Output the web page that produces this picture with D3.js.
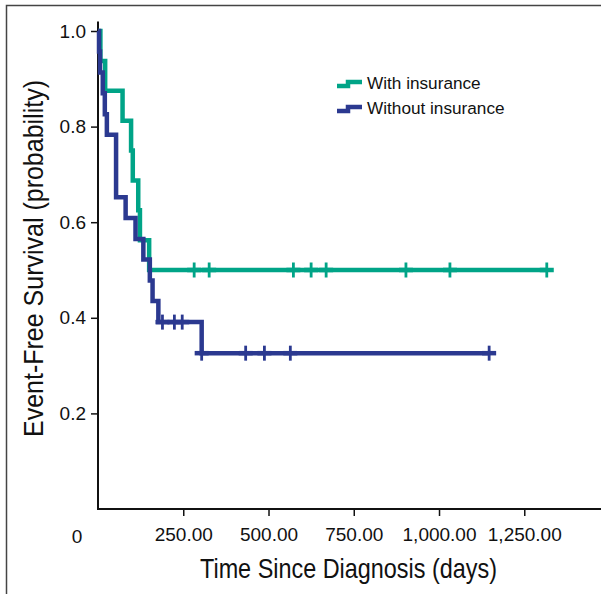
<!DOCTYPE html>
<html>
<head>
<meta charset="utf-8">
<script src="https://cdn.jsdelivr.net/npm/d3@7/dist/d3.min.js"></script>
<style>
body { margin: 0; background: #fff; }
svg { display: block; }
.tick text { font-family: "Liberation Sans", Arial, sans-serif; font-size: 19px; fill: #111; }
.title { font-family: "Liberation Sans Narrow", "Liberation Sans", Arial, sans-serif; font-size: 28.5px; fill: #111; }
.legend text { font-family: "Liberation Sans", Arial, sans-serif; font-size: 17.2px; fill: #111; }
</style>
</head>
<body>
<div id="chart"></div>
<script>
(function(){
"use strict";

// step points (days, survival)
var withTime = [0, 7, 21, 72, 97, 102, 118, 123, 150];
var withSurv = [1, 0.9375, 0.875, 0.8125, 0.75, 0.6875, 0.625, 0.5625, 0.5];
var withCensorTime = [282, 326, 573, 625, 669, 903, 1032, 1316];
var withCensorSurv = [0.5, 0.5, 0.5, 0.5, 0.5, 0.5, 0.5, 0.5];

var withoutTime = [0, 3, 6, 14, 20, 26, 53, 81, 110, 133, 152, 160, 177, 304];
var withoutSurv = [1, 0.957, 0.913, 0.870, 0.826, 0.783, 0.652, 0.609, 0.565, 0.522, 0.478, 0.435, 0.391, 0.326];
var withoutCensorTime = [189, 224, 247, 304, 433, 488, 564, 1147];
var withoutCensorSurv = [0.391, 0.391, 0.391, 0.326, 0.326, 0.326, 0.326, 0.326];

var xTicks = [250, 500, 750, 1000, 1250];
var yTicks = [0.2, 0.4, 0.6, 0.8, 1.0];
var seriesNames = ["With insurance", "Without insurance"];
var colors = ["#00a487", "#2b3990"];

var width = 610, height = 594;

var x = d3.scaleLinear().domain([0, 1475]).range([98, 601]);
var y = d3.scaleLinear().domain([0, 1]).range([509, 31]);

var svg = d3.select("#chart").append("svg")
	.attr("width", width)
	.attr("height", height);

// frame (left and top only)
svg.append("path")
	.attr("d", "M6.5,594V5.5H601")
	.attr("fill", "none")
	.attr("stroke", "#444")
	.attr("stroke-width", 1.5);

// axes
var xAxis = d3.axisBottom(x).tickValues(xTicks).tickSize(7).tickPadding(12).tickFormat(d3.format(",.2f"));
var yAxis = d3.axisLeft(y).tickValues(yTicks).tickSize(7).tickPadding(5).tickFormat(d3.format(".1f"));

var gx = svg.append("g")
	.attr("transform", "translate(0," + y(0) + ")")
	.call(xAxis);
gx.select(".domain").remove();
gx.selectAll("line").attr("stroke", "#111").attr("stroke-width", 1.5);

var gy = svg.append("g")
	.attr("transform", "translate(" + x(0) + ",0)")
	.call(yAxis);
gy.select(".domain").remove();
gy.selectAll("line").attr("stroke", "#111").attr("stroke-width", 1.5);

svg.append("path")
	.attr("d", "M" + x(0) + "," + y(1.02) + "V" + y(0) + "H" + x(1475))
	.attr("fill", "none")
	.attr("stroke", "#111")
	.attr("stroke-width", 2);

// shared origin label
svg.append("text")
	.attr("x", 77)
	.attr("y", 543)
	.attr("text-anchor", "middle")
	.style("font-family", "'Liberation Sans', Arial, sans-serif")
	.style("font-size", "19px")
	.attr("fill", "#111")
	.text("0");

// axis titles (condensed to match the narrow face)
svg.append("text")
	.attr("class", "title")
	.attr("x", 200)
	.attr("y", 578)
	.attr("textLength", 297)
	.attr("lengthAdjust", "spacingAndGlyphs")
	.text("Time Since Diagnosis (days)");

svg.append("text")
	.attr("class", "title")
	.attr("transform", "translate(43,437) rotate(-90)")
	.attr("textLength", 357)
	.attr("lengthAdjust", "spacingAndGlyphs")
	.text("Event-Free Survival (probability)");

// KM step curves
function stepPath(times, surv, endTime){
	var pts = times.map(function(t, i){ return [x(t), y(surv[i])]; });
	pts.push([x(endTime), y(surv[surv.length - 1])]);
	return d3.line().curve(d3.curveStepAfter)(pts);
}

var groups = [
	{time: withTime, surv: withSurv, ct: withCensorTime, cs: withCensorSurv},
	{time: withoutTime, surv: withoutSurv, ct: withoutCensorTime, cs: withoutCensorSurv}
];

groups.forEach(function(g, k){
	svg.append("path")
		.attr("d", stepPath(g.time, g.surv, d3.max(g.ct)))
		.attr("fill", "none")
		.attr("stroke", colors[k])
		.attr("stroke-width", 4.5)
		.attr("stroke-linejoin", "miter");

	var marks = svg.selectAll(null)
		.data(g.ct)
		.enter()
		.append("g")
		.attr("transform", function(d, i){ return "translate(" + x(d) + "," + y(g.cs[i]) + ")"; });
	marks.append("line")
		.attr("y1", -7.5).attr("y2", 7.5)
		.attr("stroke", colors[k]).attr("stroke-width", 2.8);
	marks.append("line")
		.attr("x1", -7).attr("x2", 7)
		.attr("stroke", colors[k]).attr("stroke-width", 4.5);
});

// legend
var legend = svg.append("g").attr("class", "legend");
seriesNames.forEach(function(name, i){
	var ly = 84 + i * 25;
	legend.append("path")
		.attr("d", "M337," + (ly + 2) + "H348V" + (ly - 2) + "H362")
		.attr("fill", "none")
		.attr("stroke", colors[i])
		.attr("stroke-width", 4.5);
	legend.append("text")
		.attr("x", 367)
		.attr("y", ly + 5)
		.text(name);
});

})();
</script>
</body>
</html>
